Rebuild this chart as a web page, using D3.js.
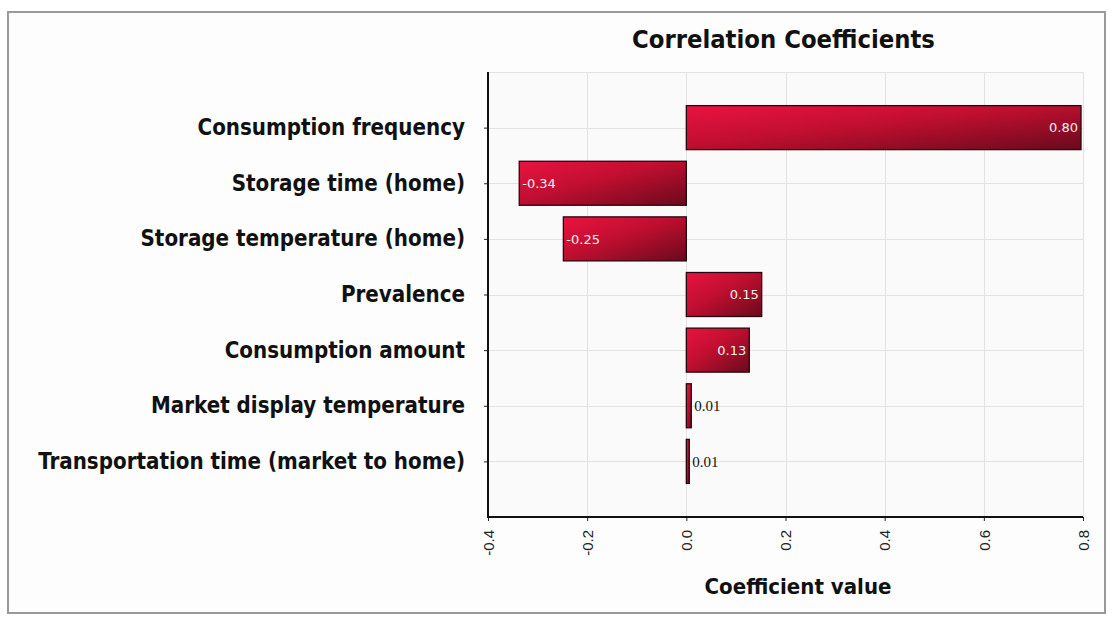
<!DOCTYPE html>
<html>
<head>
<meta charset="utf-8">
<script src="https://cdn.jsdelivr.net/npm/d3@7"></script>
<style>
  html, body { margin: 0; padding: 0; background: #ffffff; }
  svg { display: block; }
</style>
</head>
<body>
<svg id="chart" width="1117" height="619"></svg>
<script>
// ---- data ----
const categories = [
  "Consumption frequency",
  "Storage time (home)",
  "Storage temperature (home)",
  "Prevalence",
  "Consumption amount",
  "Market display temperature",
  "Transportation time (market to home)"
];
const coefficients = [0.796, -0.337, -0.248, 0.152, 0.127, 0.010, 0.006];
const xTicks = [-0.4, -0.2, 0.0, 0.2, 0.4, 0.6, 0.8];
const chartTitle = "Correlation Coefficients";
const xTitle = "Coefficient value";

// ---- layout ----
const plot = { left: 488, right: 1083, top: 72, bottom: 517 };
const svg = d3.select("#chart");

// outer frame
svg.append("rect").attr("x", 8).attr("y", 12).attr("width", 1097).attr("height", 601)
  .attr("fill", "#fdfdfd").attr("stroke", "#999999").attr("stroke-width", 2);

const x = d3.scaleLinear().domain([-0.4, 0.8]).range([plot.left, plot.right]);
const y = d3.scalePoint().domain(categories).range([plot.top, plot.bottom]).padding(1);
const barH = 44;
const hyph = s => s.replace("\u2212", "-");

// gradient
const defs = svg.append("defs");
const grad = defs.append("linearGradient").attr("id", "barGrad")
  .attr("x1", "0").attr("y1", "0").attr("x2", "1").attr("y2", "1");
grad.append("stop").attr("offset", "0%").attr("stop-color", "#ea1340");
grad.append("stop").attr("offset", "45%").attr("stop-color", "#c00f30");
grad.append("stop").attr("offset", "100%").attr("stop-color", "#6a0a1c");

// plot background
svg.append("rect").attr("x", plot.left).attr("y", plot.top)
  .attr("width", plot.right - plot.left).attr("height", plot.bottom - plot.top)
  .attr("fill", "#fafafa");

// gridlines
const grid = svg.append("g").attr("stroke", "#e2e2e2").attr("stroke-width", 1);
grid.selectAll("line.v").data(xTicks).join("line")
  .attr("x1", d => Math.round(x(d)) + 0.5).attr("x2", d => Math.round(x(d)) + 0.5)
  .attr("y1", plot.top).attr("y2", plot.bottom);
grid.selectAll("line.h").data(categories).join("line")
  .attr("x1", plot.left).attr("x2", plot.right)
  .attr("y1", d => Math.round(y(d)) + 0.5).attr("y2", d => Math.round(y(d)) + 0.5);
grid.append("line").attr("x1", plot.left).attr("x2", plot.right)
  .attr("y1", plot.top + 0.5).attr("y2", plot.top + 0.5);

// bars
svg.append("g").selectAll("rect").data(categories).join("rect")
  .attr("x", (d, i) => Math.min(x(0), x(coefficients[i])))
  .attr("y", d => y(d) - barH / 2)
  .attr("width", (d, i) => Math.abs(x(coefficients[i]) - x(0)))
  .attr("height", barH)
  .attr("fill", "url(#barGrad)")
  .attr("stroke", "#2a070e").attr("stroke-width", 1.3);

// value labels
const fmt = d3.format(".2f");
svg.append("g").selectAll("text").data(categories).join("text")
  .each(function (d, i) {
    const v = coefficients[i];
    const w = Math.abs(x(v) - x(0));
    const t = d3.select(this).text(hyph(fmt(v))).attr("y", y(d)).attr("dy", "0.36em");
    if (w < 40) {
      t.attr("x", x(v) + 3).attr("text-anchor", "start")
        .attr("font-family", "Liberation Serif, serif").attr("font-size", 15)
        .attr("fill", "#111");
    } else if (v >= 0) {
      t.attr("x", x(v) - 3).attr("text-anchor", "end")
        .attr("font-family", "DejaVu Sans, sans-serif").attr("font-size", 13)
        .attr("fill", "#f4f0f0");
    } else {
      t.attr("x", x(v) + 3).attr("text-anchor", "start")
        .attr("font-family", "DejaVu Sans, sans-serif").attr("font-size", 13)
        .attr("fill", "#f4f0f0");
    }
  });

// left axis
const yAxis = d3.axisLeft(y).tickSize(4).tickFormat("");
const gy = svg.append("g").attr("transform", `translate(${plot.left},0)`).call(yAxis);
gy.select(".domain").remove();
gy.selectAll(".tick line").attr("stroke", "#222");
svg.append("line").attr("x1", plot.left).attr("x2", plot.left)
  .attr("y1", plot.top).attr("y2", plot.bottom + 1)
  .attr("stroke", "#111").attr("stroke-width", 2);

// category labels
const catLabels = svg.append("g").selectAll("text").data(categories).join("text")
  .attr("x", 465).attr("y", d => y(d) + 7.5)
  .attr("text-anchor", "end")
  .attr("font-family", "DejaVu Sans, sans-serif")
  .attr("font-stretch", "condensed")
  .attr("font-weight", "bold")
  .attr("font-size", 22)
  .attr("fill", "#111")
  .text(d => d);
(function () {
  let maxW = 0;
  catLabels.each(function () { maxW = Math.max(maxW, this.getComputedTextLength()); });
  catLabels.attr("font-size", 22 * 427 / maxW);
})();

// bottom axis
const xAxis = d3.axisBottom(x).tickValues(xTicks).tickSize(4)
  .tickFormat(d => hyph(d3.format(".1f")(d)));
const gx = svg.append("g").attr("transform", `translate(0,${plot.bottom})`).call(xAxis);
gx.select(".domain").remove();
gx.selectAll(".tick line").attr("stroke", "#222");
gx.selectAll(".tick text")
  .attr("transform", "translate(0,13) rotate(-90)")
  .attr("x", 0).attr("y", 0).attr("dy", "0.35em")
  .attr("text-anchor", "end")
  .attr("font-family", "Liberation Sans, Arial, sans-serif")
  .attr("font-size", 15)
  .attr("fill", "#222");
svg.append("line").attr("x1", plot.left - 1).attr("x2", plot.right)
  .attr("y1", plot.bottom).attr("y2", plot.bottom)
  .attr("stroke", "#111").attr("stroke-width", 2);

// titles
function fitText(sel, target, base) {
  const w = sel.node().getComputedTextLength();
  sel.attr("font-size", base * target / w);
}
const title = svg.append("text").attr("x", 783.5).attr("y", 48)
  .attr("text-anchor", "middle")
  .attr("font-family", "DejaVu Sans, sans-serif").attr("font-stretch", "condensed")
  .attr("font-weight", "bold").attr("font-size", 22).attr("fill", "#111")
  .text(chartTitle);
fitText(title, 303, 22);

const xt = svg.append("text").attr("x", 798).attr("y", 594)
  .attr("text-anchor", "middle")
  .attr("font-family", "DejaVu Sans, sans-serif").attr("font-stretch", "condensed")
  .attr("font-weight", "bold").attr("font-size", 20).attr("fill", "#111")
  .text(xTitle);
fitText(xt, 187, 20);
</script>
</body>
</html>
